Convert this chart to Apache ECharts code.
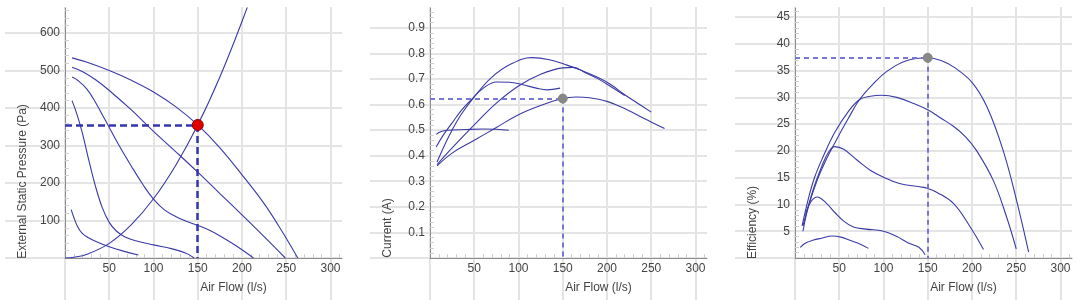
<!DOCTYPE html>
<html>
<head>
<meta charset="utf-8">
<script src="https://cdn.jsdelivr.net/npm/echarts@6/dist/echarts.min.js"></script>
<style>
  html, body { margin: 0; padding: 0; background: #fff; }
  #chart { width: 1079px; height: 300px; }
</style>
</head>
<body>
<div id="chart"></div>
<script>
// fan curves, [air flow l/s, value]
const pressure1 = [[8, 534], [25, 522], [50, 500], [75, 474], [100, 443], [125, 404], [150, 355], [175, 294], [200, 222], [225, 145], [245, 72], [263, 0]];
const pressure2 = [[8, 509], [20, 497], [35, 475], [50, 447], [75, 395], [100, 338], [125, 284], [150, 229], [175, 172], [200, 115], [225, 57], [249, 0]];
const pressure3 = [[8, 483], [15, 473], [25, 450], [35, 413], [45, 370], [60, 305], [75, 245], [88, 196], [100, 157], [112, 129], [125, 111], [137, 98], [150, 87], [165, 72], [180, 52], [195, 30], [213, 0]];
const pressure4 = [[8, 420], [14, 380], [20, 330], [27, 260], [34, 195], [42, 135], [50, 95], [58, 72], [68, 56], [80, 46], [100, 35], [120, 25], [132, 17], [140, 9], [146, 0]];
const pressure5 = [[7, 129], [10, 108], [14, 85], [19, 67], [25, 56], [35, 44], [50, 30], [65, 19], [83, 8]];
const systemCurve = [[0, 0], [10, 2], [25, 10], [50, 39], [75, 89], [100, 158], [125, 247], [150, 355], [175, 483], [200, 631], [210, 696]];

const current1 = [[8, 0.36], [25, 0.41], [50, 0.46], [75, 0.51], [100, 0.56], [125, 0.596], [150, 0.623], [165, 0.629], [180, 0.626], [200, 0.612], [222, 0.58], [245, 0.54], [265, 0.506]];
const current2 = [[8, 0.375], [15, 0.43], [25, 0.5], [35, 0.56], [50, 0.63], [70, 0.707], [92, 0.759], [115, 0.783], [135, 0.775], [152, 0.757], [170, 0.735], [190, 0.705], [205, 0.676], [220, 0.638], [235, 0.604], [250, 0.57]];
const current3 = [[8, 0.365], [25, 0.43], [50, 0.52], [75, 0.605], [100, 0.672], [125, 0.718], [150, 0.743], [162, 0.745], [175, 0.725], [190, 0.7], [205, 0.668], [220, 0.635]];
const current4 = [[7, 0.434], [15, 0.48], [25, 0.528], [35, 0.575], [47, 0.62], [60, 0.663], [75, 0.688], [90, 0.687], [105, 0.677], [120, 0.664], [132, 0.657], [147, 0.664]];
const current5 = [[7, 0.483], [12, 0.493], [20, 0.499], [40, 0.502], [60, 0.504], [75, 0.503], [89, 0.499]];

const efficiency1 = [[9, 5], [15, 9.5], [25, 14.5], [35, 18.3], [45, 21.5], [60, 26], [73, 29.6], [90, 32.8], [105, 35], [125, 36.8], [150, 37.4], [165, 36.9], [180, 35.6], [200, 32.8], [217, 28.2], [235, 20.2], [250, 11], [264, 1.1]];
const efficiency2 = [[8, 6], [15, 11], [22, 15], [32, 19], [45, 23.5], [60, 27.3], [73, 29.6], [85, 30.2], [98, 30.4], [115, 30], [135, 28.8], [151, 27.6], [165, 26.1], [179, 24.6], [193, 22.6], [205, 20.1], [224, 14.5], [239, 7.7], [250, 1.7]];
const efficiency3 = [[9, 6], [20, 12.5], [30, 17], [38, 19.8], [45, 20.8], [55, 20.3], [70, 18.3], [85, 16.4], [100, 15.1], [118, 13.9], [141, 13.3], [150, 13], [160, 12.3], [179, 10.2], [198, 5.8], [213, 1.6]];
const efficiency4 = [[12, 8.2], [18, 10.5], [25, 11.4], [35, 10.3], [45, 8.5], [55, 6.9], [66, 5.8], [80, 5.4], [100, 5], [115, 4], [128, 2.8], [140, 2], [147, 0.6]];
const efficiency5 = [[6, 2], [12, 2.8], [20, 3.3], [30, 3.7], [42, 4.1], [52, 3.9], [62, 3.3], [72, 2.7], [83, 1.8]];

// duty point
const dutyFlow = 150;
const dutyPressure = 355;
const dutyCurrent = 0.623;
const dutyEfficiency = 37.4;

const flowName = 'Air Flow (l/s)';
const flowMax = 313;
const flowTickMax = 300;

const font = 'Liberation Sans, Arial, sans-serif';
const curveColor = '#3a3aa6';

const panels = [
  { left: 65, name: 'External Static Pressure (Pa)', namePad: 97, yMax: 667, yTickMax: 600, yStep: 100,
    curves: [pressure1, pressure2, pressure3, pressure4, pressure5, systemCurve], duty: dutyPressure,
    dot: { color: '#e00000', borderColor: '#8a0000', size: 11 }, dash: { color: '#3535b0', width: 2.5, type: [7, 4] } },
  { left: 430, name: 'Current (A)', namePad: 190, yMax: 0.977, yTickMax: 0.9, yStep: 0.1,
    curves: [current1, current2, current3, current4, current5], duty: dutyCurrent,
    dot: { color: '#888', borderColor: '#888', size: 9 }, dash: { color: '#7777d6', width: 2, type: [5, 4] } },
  { left: 795, name: 'Efficiency (%)', namePad: 179, yMax: 46.7, yTickMax: 45, yStep: 5,
    curves: [efficiency1, efficiency2, efficiency3, efficiency4, efficiency5], duty: dutyEfficiency,
    dot: { color: '#888', borderColor: '#888', size: 9 }, dash: { color: '#7777d6', width: 2, type: [5, 4] } },
];

const plotW = 277, plotTop = 8, plotH = 250;
const grid = [], xAxis = [], yAxis = [], series = [];

const labelStyle = { color: '#444', fontSize: 12, fontFamily: font };
const splitStyle = { color: '#e4e4e4', width: 2 };
const axisLineStyle = { color: '#8c8c8c', width: 1 };

panels.forEach((p) => {
  const g = grid.length;
  const hh = p.yTickMax / p.yMax * plotH;

  // plot area
  grid.push({ left: p.left, top: plotTop, width: plotW, height: plotH, outerBoundsMode: 'none' });
  // horizontal grid lines, they run out to the left under the labels
  grid.push({ left: p.left - 60, top: plotTop + plotH - hh, width: plotW + 60, height: hh, outerBoundsMode: 'none' });
  // vertical grid lines, they run down to the bottom edge
  grid.push({ left: p.left, top: 7, width: flowTickMax / flowMax * plotW, height: 293, outerBoundsMode: 'none' });

  xAxis.push({
    gridIndex: g, type: 'value', min: 0, max: flowMax, interval: 50,
    axisLine: { show: true, onZero: false, lineStyle: axisLineStyle },
    axisTick: { show: false, inside: true },
    minorTick: { show: true, splitNumber: 5, length: 4, lineStyle: { color: '#cfcfcf' } },
    splitLine: { show: false },
    axisLabel: { ...labelStyle, margin: 5, showMinLabel: false, showMaxLabel: false },
    name: flowName, nameLocation: 'middle', nameGap: 24, nameMoveOverlap: false,
    nameTextStyle: { ...labelStyle, padding: [0, 0, 0, 60] },
  });
  yAxis.push({
    gridIndex: g, type: 'value', min: 0, max: p.yMax, interval: p.yStep,
    axisLine: { show: true, onZero: false, lineStyle: axisLineStyle },
    axisTick: { show: false, inside: true },
    minorTick: { show: true, splitNumber: 5, length: 4, lineStyle: { color: '#cfcfcf' } },
    splitLine: { show: false },
    axisLabel: { ...labelStyle, margin: 5, showMinLabel: false, showMaxLabel: false },
    name: p.name, nameLocation: 'middle', nameGap: 36, nameMoveOverlap: false,
    nameTextStyle: { ...labelStyle, padding: [0, p.namePad, 0, 0] },
  });

  xAxis.push({ gridIndex: g + 1, type: 'value', show: false, min: 0, max: 1 });
  yAxis.push({
    gridIndex: g + 1, type: 'value', min: 0, max: p.yTickMax, interval: p.yStep,
    axisLine: { show: false }, axisTick: { show: false }, axisLabel: { show: false },
    splitLine: { show: true, lineStyle: splitStyle },
  });

  xAxis.push({
    gridIndex: g + 2, type: 'value', min: 0, max: flowTickMax, interval: 50,
    axisLine: { show: false }, axisTick: { show: false }, axisLabel: { show: false },
    splitLine: { show: true, lineStyle: splitStyle },
  });
  yAxis.push({ gridIndex: g + 2, type: 'value', show: false, min: 0, max: 1 });

  p.curves.forEach((c) => {
    series.push({
      type: 'line', xAxisIndex: g, yAxisIndex: g, data: c,
      smooth: 0.4, showSymbol: false, silent: true, z: 3,
      lineStyle: { color: curveColor, width: 1.1 },
    });
  });

  series.push({
    type: 'scatter', xAxisIndex: g, yAxisIndex: g, z: 5, silent: true,
    data: [[dutyFlow, p.duty]],
    symbolSize: p.dot.size,
    itemStyle: { color: p.dot.color, borderColor: p.dot.borderColor, borderWidth: 1, opacity: 1 },
    markLine: {
      silent: true, symbol: ['none', 'none'], label: { show: false },
      lineStyle: { color: p.dash.color, width: p.dash.width, type: p.dash.type, opacity: 1 },
      data: [
        [{ coord: [0, p.duty] }, { coord: [dutyFlow, p.duty] }],
        [{ coord: [dutyFlow, p.duty] }, { coord: [dutyFlow, 0] }],
      ],
    },
  });
});

const chart = echarts.init(document.getElementById('chart'), null, { renderer: 'canvas' });
chart.setOption({
  animation: false,
  backgroundColor: '#fff',
  grid, xAxis, yAxis, series,
});
</script>
</body>
</html>
